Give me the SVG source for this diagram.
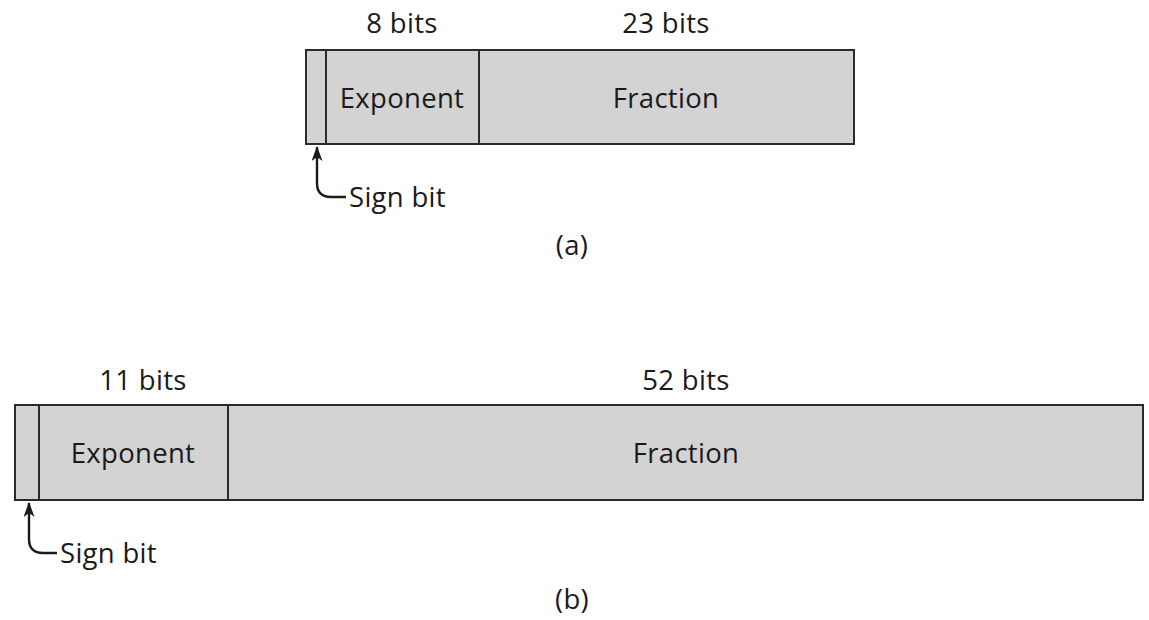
<svg xmlns="http://www.w3.org/2000/svg" width="1149" height="620" viewBox="0 0 1149 620">
<defs>
<style>
.box{fill:#d3d3d3;stroke:#2b2b2b;stroke-width:2}
.div{stroke:#2b2b2b;stroke-width:2}
.t{font-family:"Open Sans","Noto Sans",sans-serif;font-size:27.5px;letter-spacing:0.3px;fill:#1a1a1a;text-anchor:middle}
.ts{font-family:"Open Sans","Noto Sans",sans-serif;font-size:27.5px;letter-spacing:0.3px;fill:#1a1a1a}
.arr{fill:none;stroke:#1a1a1a;stroke-width:2.4}
</style>
<marker id="ah" viewBox="0 0 15 11" refX="14" refY="5.5" markerWidth="15" markerHeight="11" orient="auto" markerUnits="userSpaceOnUse">
<path d="M0,0 L15,5.5 L0,11 L4,5.5 Z" fill="#1a1a1a"/>
</marker>
</defs>
<rect width="1149" height="620" fill="#fff"/>
<g id="a-word">
<rect class="box" x="306" y="50" width="548" height="94"/>
<line class="div" x1="326" y1="50" x2="326" y2="144"/>
<line class="div" x1="479" y1="50" x2="479" y2="144"/>
<text class="t" x="402" y="108">Exponent</text>
<text class="t" x="666" y="108">Fraction</text>
<text class="t" x="402" y="33">8 bits</text>
<text class="t" x="666" y="33">23 bits</text>
</g>
<g id="a-sign">
<text class="ts" x="349" y="207">Sign bit</text>
<text class="t" x="572" y="255">(a)</text>
</g>
<g id="b-word">
<rect class="box" x="15" y="405" width="1128" height="95"/>
<line class="div" x1="39" y1="405" x2="39" y2="500"/>
<line class="div" x1="228" y1="405" x2="228" y2="500"/>
<text class="t" x="133" y="463">Exponent</text>
<text class="t" x="686" y="463">Fraction</text>
<text class="t" x="143" y="390">11 bits</text>
<text class="t" x="686" y="390">52 bits</text>
</g>
<g id="b-sign">
<text class="ts" x="60" y="563">Sign bit</text>
<text class="t" x="572" y="609">(b)</text>
</g>
<g id="connectors">
<path class="arr" d="M346,197 L331,197 Q317,197 317,183 L317,147" marker-end="url(#ah)"/>
<path class="arr" d="M57,553 L43,553 Q29,553 29,539 L29,503" marker-end="url(#ah)"/>
</g>
</svg>
